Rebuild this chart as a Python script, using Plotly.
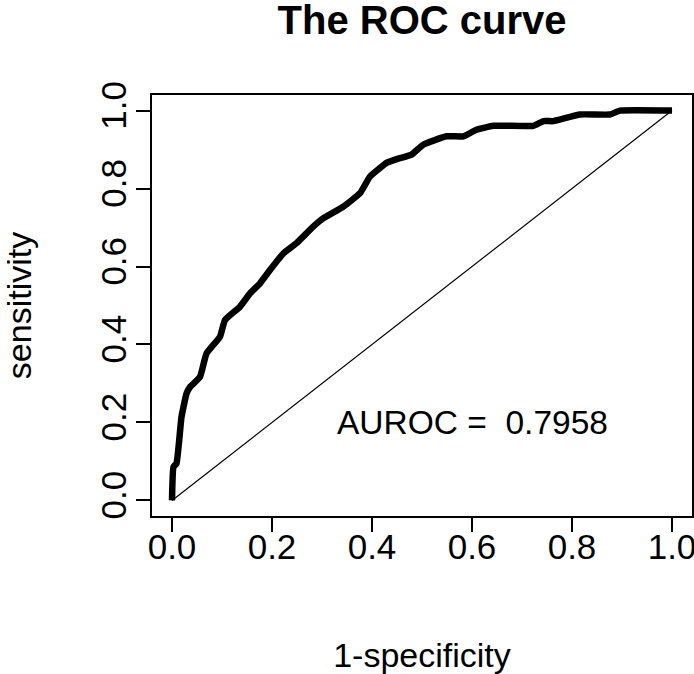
import plotly.graph_objects as go

fpr = [0.0, 0.003, 0.009, 0.019, 0.029, 0.036, 0.056, 0.069, 0.096, 0.106, 0.136, 0.156,
       0.176, 0.196, 0.223, 0.249, 0.283, 0.303, 0.343, 0.376, 0.396, 0.416, 0.429,
       0.456, 0.479, 0.503, 0.549, 0.583, 0.609, 0.643, 0.723, 0.743, 0.763, 0.816,
       0.876, 0.896, 1.0]
tpr = [0.0, 0.086, 0.095, 0.214, 0.274, 0.291, 0.317, 0.377, 0.42, 0.463, 0.497, 0.531,
       0.557, 0.591, 0.634, 0.66, 0.703, 0.724, 0.754, 0.788, 0.831, 0.853, 0.866,
       0.878, 0.887, 0.913, 0.934, 0.934, 0.951, 0.961, 0.961, 0.973, 0.973, 0.99,
       0.99, 1.0, 1.0]
diag = [0.0, 1.0]
tick_vals = [0.0, 0.2, 0.4, 0.6, 0.8, 1.0]
tick_text = ["0.0", "0.2", "0.4", "0.6", "0.8", "1.0"]
auroc = 0.7958

FONT = "Liberation Sans, Arial, sans-serif"

fig = go.Figure()
fig.add_trace(go.Scatter(x=diag, y=diag, mode="lines",
                         line=dict(color="black", width=1.2), hoverinfo="skip"))
fig.add_trace(go.Scatter(x=fpr, y=tpr, mode="lines",
                         line=dict(color="black", width=6.5, shape="spline", smoothing=0.4)))

fig.add_annotation(x=0.6, y=0.2, xref="x", yref="y", text=f"AUROC =  {auroc}",
                   showarrow=False, font=dict(family=FONT, size=33.5, color="black"))

axis_common = dict(range=[-0.04, 1.04], tickvals=tick_vals, ticktext=tick_text,
                   ticks="outside", ticklen=14, tickwidth=1.5, tickcolor="black",
                   showline=True, mirror=True, linecolor="black", linewidth=2,
                   showgrid=False, zeroline=False, automargin=False,
                   ticklabeloverflow="allow",
                   tickfont=dict(family=FONT, size=35, color="black"))

fig.update_layout(
    width=694, height=674,
    margin=dict(l=152, r=2, t=95, b=158),
    paper_bgcolor="white", plot_bgcolor="white",
    showlegend=False,
    title=dict(text="<b>The ROC curve</b>", x=(152 + 692) / 2 / 694, xanchor="center",
               y=1 - 20 / 674, yanchor="middle",
               font=dict(family=FONT, size=40, color="black")),
    xaxis=dict(**axis_common, ticklabelstandoff=-15,
               title=dict(text="1-specificity", standoff=78,
                          font=dict(family=FONT, size=34, color="black"))),
    yaxis=dict(**axis_common, tickangle=-90, ticklabelstandoff=-4,
               title=dict(text="sensitivity", standoff=69,
                          font=dict(family=FONT, size=34, color="black"))),
)

fig.write_html("out.html",
               config={"displayModeBar": False},
               post_script="document.body.style.margin='0';"
                           "document.body.style.overflow='hidden';")
